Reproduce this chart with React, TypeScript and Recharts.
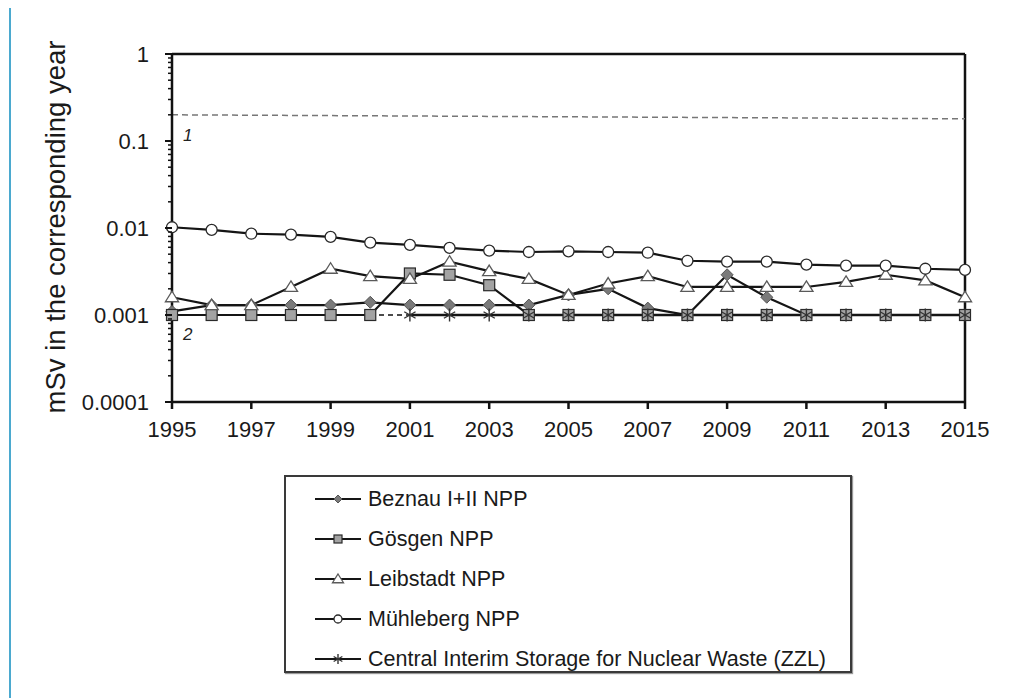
import React from 'react';
import { LineChart, Line, XAxis, YAxis, ReferenceLine, Legend } from 'recharts';

const years = [1995, 1996, 1997, 1998, 1999, 2000, 2001, 2002, 2003, 2004, 2005, 2006, 2007, 2008, 2009, 2010, 2011, 2012, 2013, 2014, 2015];
const beznau = [0.0011, 0.0013, 0.0013, 0.0013, 0.0013, 0.0014, 0.0013, 0.0013, 0.0013, 0.0013, 0.0017, 0.002, 0.0012, 0.001, 0.0029, 0.0016, 0.001, 0.001, 0.001, 0.001, 0.001];
const goesgen = [0.001, 0.001, 0.001, 0.001, 0.001, 0.001, 0.003, 0.0029, 0.0022, 0.001, 0.001, 0.001, 0.001, 0.001, 0.001, 0.001, 0.001, 0.001, 0.001, 0.001, 0.001];
const leibstadt = [0.0016, 0.0013, 0.0013, 0.0021, 0.0034, 0.0028, 0.0026, 0.0041, 0.0032, 0.0026, 0.0017, 0.0023, 0.0028, 0.0021, 0.0021, 0.0021, 0.0021, 0.0024, 0.0029, 0.0025, 0.0016];
const muehleberg = [0.0102, 0.0095, 0.0086, 0.0084, 0.0079, 0.0068, 0.0064, 0.0059, 0.0055, 0.0053, 0.0054, 0.0053, 0.0052, 0.0042, 0.0041, 0.0041, 0.0038, 0.0037, 0.0037, 0.0034, 0.0033];
const zzl = [null, null, null, null, null, null, 0.001, 0.001, 0.001, 0.001, 0.001, 0.001, 0.001, 0.001, 0.001, 0.001, 0.001, 0.001, 0.001, 0.001, 0.001];

const seriesNames = ['Beznau I+II NPP', 'Gösgen NPP', 'Leibstadt NPP', 'Mühleberg NPP', 'Central Interim Storage for Nuclear Waste (ZZL)'];
const xTicks = [1995, 1997, 1999, 2001, 2003, 2005, 2007, 2009, 2011, 2013, 2015];
const yMajorTicks = [0.0001, 0.001, 0.01, 0.1, 1];
const yTickLabels = ['0.0001', '0.001', '0.01', '0.1', '1'];
const limit1 = [0.2, 0.18];
const limit2 = 0.001;
const limitLabels = ['1', '2'];

const data = years.map((y, i) => ({
  year: y,
  beznau: beznau[i],
  goesgen: goesgen[i],
  leibstadt: leibstadt[i],
  muehleberg: muehleberg[i],
  zzl: zzl[i],
}));

const yTicks: number[] = [];
for (let e = -4; e < 0; e++) {
  for (let k = 1; k <= 9; k++) yTicks.push(k * Math.pow(10, e));
}
yTicks.push(1);

const FONT = "'Liberation Sans', Arial, sans-serif";
const LINE = '#151515';

type Shape = 'diamond' | 'square' | 'triangle' | 'circle' | 'star';

const marker = (shape: Shape, cx: number, cy: number, s: number, key?: string) => {
  switch (shape) {
    case 'diamond':
      return <polygon key={key} points={`${cx},${cy - s} ${cx + s},${cy} ${cx},${cy + s} ${cx - s},${cy}`} fill="#7a7a7a" stroke="#555" strokeWidth={1} />;
    case 'square':
      return <rect key={key} x={cx - s} y={cy - s} width={2 * s} height={2 * s} fill="#a3a3a3" stroke="#2a2a2a" strokeWidth={1.2} />;
    case 'triangle':
      return <polygon key={key} points={`${cx},${cy - s} ${cx + s * 1.1},${cy + s * 0.75} ${cx - s * 1.1},${cy + s * 0.75}`} fill="#fff" stroke="#5a5a5a" strokeWidth={1.3} />;
    case 'circle':
      return <circle key={key} cx={cx} cy={cy} r={s} fill="#fff" stroke="#2a2a2a" strokeWidth={1.3} />;
    case 'star':
      return (
        <g key={key} stroke="#333" strokeWidth={1.4}>
          <line x1={cx} y1={cy - s} x2={cx} y2={cy + s} />
          <line x1={cx - s * 0.87} y1={cy - s * 0.5} x2={cx + s * 0.87} y2={cy + s * 0.5} />
          <line x1={cx - s * 0.87} y1={cy + s * 0.5} x2={cx + s * 0.87} y2={cy - s * 0.5} />
        </g>
      );
  }
  return null;
};

const makeDot = (shape: Shape, s: number) => (props: any) => {
  const { cx, cy, index, value } = props;
  if (cx == null || cy == null || value == null || Number.isNaN(cy)) return <g key={`e-${shape}-${index}`} />;
  return marker(shape, cx, cy, s, `d-${shape}-${index}`);
};

const YTick = (props: any) => {
  const { x, y, payload } = props;
  const v = payload.value;
  const lg = Math.log10(v);
  const isMajor = Math.abs(lg - Math.round(lg)) < 1e-6;
  if (!isMajor) {
    return <line x1={x - 4} y1={y} x2={x} y2={y} stroke="#111" strokeWidth={1.5} />;
  }
  const idx = yMajorTicks.findIndex((m) => Math.abs(Math.log10(m) - lg) < 1e-6);
  return (
    <g>
      <line x1={x - 7} y1={y} x2={x} y2={y} stroke="#111" strokeWidth={2} />
      <text x={x - 23} y={y} dy="0.36em" textAnchor="end" fontSize={22} fontFamily={FONT} fill="#1a1a1a">
        {yTickLabels[idx]}
      </text>
    </g>
  );
};

const legendShapes: Shape[] = ['diamond', 'square', 'triangle', 'circle', 'star'];
const legendSizes = [4, 4, 5, 4, 5];

const LegendBox = () => (
  <div
    style={{
      width: 568,
      height: 198,
      boxSizing: 'border-box',
      border: '2px solid #3a3a3a',
      boxShadow: '1px 1px 1px #999',
      background: '#fff',
      paddingTop: 2,
    }}
  >
    {seriesNames.map((n, i) => (
      <div key={n} style={{ height: 40, display: 'flex', alignItems: 'center', marginLeft: 29 }}>
        <svg width={48} height={20} style={{ marginRight: 5 }}>
          <line x1={0} y1={10} x2={46} y2={10} stroke={LINE} strokeWidth={2} />
          {marker(legendShapes[i], 23, 10, legendSizes[i])}
        </svg>
        <span style={{ fontFamily: FONT, fontSize: 21.5, color: '#1a1a1a', whiteSpace: 'nowrap' }}>{n}</span>
      </div>
    ))}
  </div>
);

export default function App() {
  return (
    <div style={{ position: 'relative', width: 1011, height: 690 }}>
      <div
        style={{
          position: 'absolute',
          left: 1,
          top: -2,
          width: 1030,
          height: 720,
          borderTop: '2px solid #4ba9cf',
          borderLeft: '2px solid #4ba9cf',
          pointerEvents: 'none',
        }}
      />
      <LineChart width={1011} height={682} data={data} margin={{ top: 46, right: 54, left: 0, bottom: 0 }}>
        <XAxis
          dataKey="year"
          type="number"
          domain={[1995, 2015]}
          ticks={xTicks}
          interval={0}
          height={288}
          tickSize={7}
          tickMargin={12}
          stroke="#111"
          strokeWidth={2.5}
          tick={{ fontSize: 22, fontFamily: FONT, fill: '#1a1a1a' }}
          allowDecimals={false}
        />
        <YAxis
          type="number"
          scale="log"
          domain={[0.0001, 1]}
          ticks={yTicks}
          interval={0}
          width={164}
          tickSize={0}
          tickMargin={0}
          tickLine={false}
          stroke="#111"
          strokeWidth={2.5}
          allowDataOverflow
          tick={<YTick />}
          label={{
            content: (p: any) => {
              const vb = p.viewBox || { x: 0, y: 46, height: 348 };
              const cx = 47;
              const cy = vb.y + vb.height / 2 - 1;
              return (
                <text
                  x={cx}
                  y={cy}
                  transform={`rotate(-90 ${cx} ${cy})`}
                  textAnchor="middle"
                  dominantBaseline="central"
                  fontSize={27.5}
                  fontFamily={FONT}
                  fill="#1a1a1a"
                >
                  mSv in the corresponding year
                </text>
              );
            },
          }}
        />
        <ReferenceLine y={1} stroke="#111" strokeWidth={2.5} />
        <ReferenceLine x={2015} stroke="#111" strokeWidth={2.5} />
        <ReferenceLine
          segment={[
            { x: 1995, y: limit1[0] },
            { x: 2015, y: limit1[1] },
          ]}
          stroke="#777"
          strokeWidth={1.5}
          strokeDasharray="6 4"
          label={{
            content: (p: any) => {
              const vb = p.viewBox || { x: 164, y: 108 };
              return (
                <text x={vb.x + 11} y={vb.y + 26} fontSize={17} fontStyle="italic" fontFamily={FONT} fill="#222">
                  {limitLabels[0]}
                </text>
              );
            },
          }}
        />
        <ReferenceLine
          y={limit2}
          stroke="#111"
          strokeWidth={1.3}
          strokeDasharray="5 4"
          label={{
            content: (p: any) => {
              const vb = p.viewBox || { x: 164, y: 307 };
              return (
                <text x={vb.x + 11} y={vb.y + 25} fontSize={17} fontStyle="italic" fontFamily={FONT} fill="#222">
                  {limitLabels[1]}
                </text>
              );
            },
          }}
        />
        <Line dataKey="beznau" name={seriesNames[0]} stroke={LINE} strokeWidth={2.2} dot={makeDot('diamond', 6)} isAnimationActive={false} />
        <Line dataKey="goesgen" name={seriesNames[1]} stroke={LINE} strokeWidth={2.2} dot={makeDot('square', 5.5)} isAnimationActive={false} />
        <Line dataKey="leibstadt" name={seriesNames[2]} stroke={LINE} strokeWidth={2.2} dot={makeDot('triangle', 6)} isAnimationActive={false} />
        <Line dataKey="muehleberg" name={seriesNames[3]} stroke={LINE} strokeWidth={2.2} dot={makeDot('circle', 5.5)} isAnimationActive={false} />
        <Line dataKey="zzl" name={seriesNames[4]} stroke={LINE} strokeWidth={2.6} dot={makeDot('star', 6.5)} isAnimationActive={false} />
        <Legend
          layout="horizontal"
          verticalAlign="middle"
          align="center"
          content={() => <LegendBox />}
          wrapperStyle={{ left: 276, top: 467, width: 568, height: 198 }}
        />
      </LineChart>
    </div>
  );
}
